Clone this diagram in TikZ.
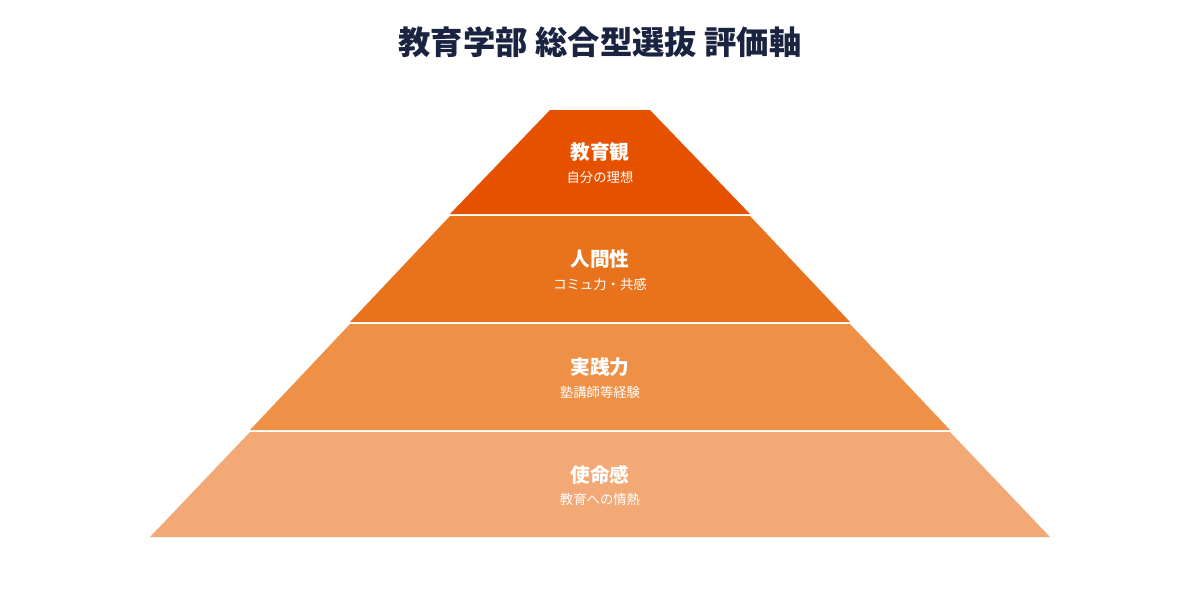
\documentclass[tikz,border=0pt]{standalone}
\usepackage{fontspec}
\newfontfamily\jp{Noto Sans CJK JP}
\usetikzlibrary{positioning}
\definecolor{tierA}{HTML}{E65100}
\definecolor{tierB}{HTML}{E8731C}
\definecolor{tierC}{HTML}{EE9045}
\definecolor{tierD}{HTML}{F3A975}
\definecolor{navy}{HTML}{1A2340}
\begin{document}
\begin{tikzpicture}[x=0.025cm,y=-0.025cm,
    tiername/.style={text=white, font=\jp\bfseries\fontsize{14}{16}\selectfont},
    tiersub/.style={text=white, font=\jp\fontsize{9.5}{11}\selectfont, inner sep=0pt}]
  \useasboundingbox (0,0) rectangle (1200,600);
  \node[text=navy, font=\jp\bfseries\fontsize{23}{26}\selectfont] (title) at (600,42) {教育学部 総合型選抜 評価軸};
  % pyramid tiers: top y, bottom y, colour, name, sub
  \foreach \t/\b/\c/\n/\s [count=\i] in {110/214/tierA/教育観/自分の理想,
      216/322/tierB/人間性/コミュ力・共感,
      324/430/tierC/実践力/塾講師等経験,
      432/537/tierD/使命感/教育への情熱}{
    \pgfmathsetmacro\wt{50+100*(\i-1)}
    \pgfmathsetmacro\wb{\wt+100}
    \fill[\c] (600-\wt,\t) -- (600+\wt,\t) -- (600+\wb,\b) -- (600-\wb,\b) -- cycle;
    \node[tiername] (tier\i) at (600,{(\t+\b)/2-10}) {\n};
    \node[tiersub, below=3pt of tier\i] (sub\i) {\s};
  }
\end{tikzpicture}
\end{document}
